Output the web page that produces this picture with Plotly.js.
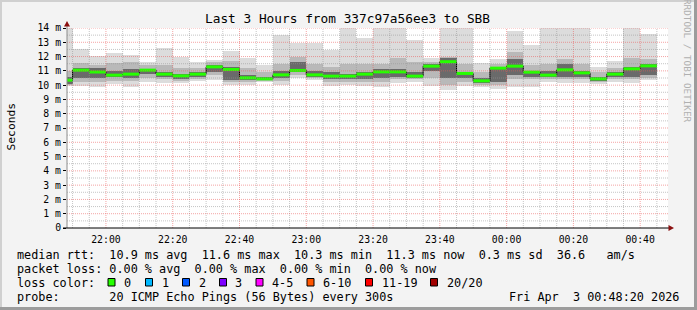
<!DOCTYPE html>
<html>
<head>
<meta charset="utf-8">
<script src="https://cdn.plot.ly/plotly-3.0.1.min.js"></script>
<style>
  html, body { margin: 0; padding: 0; background: #f3f3f3; }
  #chart { width: 697px; height: 310px; }
</style>
</head>
<body>
<div id="chart"></div>
<script>
// ---------- DATA ----------
// end time of each 5-minute step
const barEnd = ["21:50","21:55","22:00","22:05","22:10","22:15","22:20","22:25","22:30","22:35",
                "22:40","22:45","22:50","22:55","23:00","23:05","23:10","23:15","23:20","23:25",
                "23:30","23:35","23:40","23:45","23:50","23:55","00:00","00:05","00:10","00:15",
                "00:20","00:25","00:30","00:35","00:40","00:45"];
// RTT in ms
const minV   = [9.95,9.93,9.89,10.05,9.88,10.23,10.12,10.12,10.30,10.35,10.00,10.00,10.23,10.00,10.50,10.35,9.93,10.00,
                9.93,9.84,10.16,10.23,9.93,9.65,9.93,9.84,9.74,9.84,9.84,10.23,10.16,10.16,10.07,10.23,10.16,10.35];
const loMid  = [10.00,10.24,10.20,10.30,10.30,10.50,10.40,10.30,10.45,10.70,10.20,10.20,10.30,10.30,10.70,10.50,10.20,10.20,
                10.20,10.20,10.40,10.40,10.50,10.00,10.20,10.00,10.00,10.40,10.40,10.40,10.40,10.40,10.20,10.40,10.40,10.50];
const loDark = [10.10,10.47,10.50,10.55,10.50,10.80,10.60,10.45,10.60,10.90,10.35,10.35,10.40,10.50,10.90,10.60,10.40,10.40,
                10.40,10.50,10.60,10.50,11.00,10.50,10.50,10.15,10.20,10.70,10.60,10.60,10.60,10.60,10.30,10.55,10.60,10.70];
const median = [10.35,11.05,10.92,10.70,10.77,11.05,10.77,10.65,10.77,11.28,11.10,10.51,10.44,10.72,11.03,10.72,10.63,10.63,
                10.77,10.93,10.93,10.63,11.33,11.64,10.82,10.30,11.19,11.33,10.91,10.70,11.07,10.86,10.44,10.77,11.14,11.35];
const hiDark = [10.60,11.22,11.17,11.00,11.10,11.15,10.95,10.80,10.90,11.40,11.30,10.70,10.60,11.00,11.60,11.00,10.90,10.80,
                10.95,11.10,11.10,10.90,11.45,11.90,10.95,10.50,11.30,11.80,11.00,11.00,11.50,11.00,10.60,10.90,11.30,11.50];
const hiMid  = [11.00,11.52,11.40,11.52,11.60,11.40,11.40,11.20,11.20,11.60,11.70,11.20,10.90,11.50,12.00,11.50,11.30,11.50,
                11.50,11.50,11.87,11.60,11.60,12.00,11.50,10.90,11.50,12.30,11.40,11.50,11.80,11.50,10.90,11.20,11.90,11.80];
const maxV   = [14.20,12.53,12.01,12.27,12.11,11.59,12.57,11.99,11.61,11.75,12.41,11.92,11.40,13.53,12.97,12.97,12.46,14.20,
                13.32,14.20,14.20,13.16,11.87,14.20,14.20,11.52,11.80,13.79,12.80,14.20,14.20,14.20,11.24,11.68,14.20,13.58];

const yTickVals  = [0,1,2,3,4,5,6,7,8,9,10,11,12,13,14];
const yTickText  = ["0","1 m","2 m","3 m","4 m","5 m","6 m","7 m","8 m","9 m","10 m","11 m","12 m","13 m","14 m"];
const lossLabels = ["0","1","2","3","4-5","6-10","11-19","20/20"];
const lossColors = ["#26ff00","#00b8ff","#0059ff","#7e00ff","#ff00ff","#ff5500","#ff0000","#a10000"];

const titleText = "Last 3 Hours from 337c97a56ee3 to SBB";
const line1 = "median rtt:  10.9 ms avg  11.6 ms max  10.3 ms min  11.3 ms now  0.3 ms sd  36.6   am/s";
const line2 = "packet loss: 0.00 % avg  0.00 % max  0.00 % min  0.00 % now";
const line4 = "probe:       20 ICMP Echo Pings (56 Bytes) every 300s";
const stamp = "Fri Apr  3 00:48:20 2026";
const rangeStart = "2026-04-02 21:48:20";
const rangeEnd   = "2026-04-03 00:48:20";

// ---------- helpers ----------
const STEP = 300000; // 5 minutes in ms
function toDate(hm) {
  const h = parseInt(hm.slice(0,2), 10);
  return (h < 12 ? "2026-04-03 " : "2026-04-02 ") + hm + ":00";
}
function toMs(s) { return Date.parse(s.replace(" ", "T") + "Z"); }
function fmt(ms) { return new Date(ms).toISOString().slice(0,19).replace("T"," "); }
const ends = barEnd.map(toDate);
const starts = ends.map(e => fmt(toMs(e) - STEP));

// pixel -> paper helpers (plot area: x 67..668, y 28..228)
const L = 67, R = 668, T = 28, B = 228;
const px = x => (x - L) / (R - L);
const py = y => (B - y) / (B - T);
const nb = s => s.replace(/ /g, "\u00a0");
const MONO = "DejaVu Sans Mono";

function band(lo, hi, color) {
  return {
    type: "bar", x: ends, base: lo, y: hi.map((v, i) => v - lo[i]),
    width: STEP, offset: -STEP,
    marker: { color: color, line: { width: 0 } },
    hoverinfo: "skip", showlegend: false
  };
}

const traces = [
  band(minV, maxV, "#dcdcdc"),
  band(loMid, hiMid, "#b9b9b9"),
  band(loDark, hiDark, "#6a6a6a")
];

// black step connector of the median
const stepX = [], stepY = [];
median.forEach((m, i) => { stepX.push(starts[i], ends[i]); stepY.push(m, m); });
traces.push({ type: "scatter", mode: "lines", x: stepX, y: stepY,
  line: { color: "#000", width: 1 }, hoverinfo: "skip", showlegend: false });

// green median segments (loss 0)
const segX = [], segY = [];
median.forEach((m, i) => { segX.push(starts[i], ends[i], null); segY.push(m, m, null); });
traces.push({ type: "scatter", mode: "lines", x: segX, y: segY,
  line: { color: lossColors[0], width: 3 }, hoverinfo: "skip", showlegend: false });

// ---------- grid (drawn above the smoke, like rrdtool) ----------
const shapes = [];
const minorC = "rgba(150,150,150,0.55)";
const majorC = "rgba(235,90,90,0.55)";
const t0 = toMs(rangeStart), t1 = toMs(rangeEnd);
for (let t = Math.ceil(t0 / STEP) * STEP; t <= t1; t += STEP) {
  const major = (t % (20 * 60000)) === 0;
  shapes.push({ type: "line", layer: "above", xref: "x", yref: "paper", x0: fmt(t), x1: fmt(t), y0: 0, y1: 1,
    line: { color: major ? majorC : minorC, width: 1, dash: "1px,1px" } });
}
for (let v = 0.5; v <= 14.001; v += 0.5) {
  const major = Math.abs(v - Math.round(v)) < 1e-6;
  shapes.push({ type: "line", layer: "above", xref: "paper", yref: "y", x0: 0, x1: 1, y0: v, y1: v,
    line: { color: major ? majorC : minorC, width: 1, dash: "1px,1px" } });
}
// axis extensions and arrows
shapes.push({ type: "line", layer: "above", xref: "paper", yref: "paper",
  x0: px(67), x1: px(67), y0: py(228), y1: py(25), line: { color: "#8c8c8c", width: 1 } });
shapes.push({ type: "line", layer: "above", xref: "paper", yref: "paper",
  x0: px(63), x1: px(670), y0: py(228), y1: py(228), line: { color: "#000", width: 1.2 } });
shapes.push({ type: "path", layer: "above", xref: "paper", yref: "paper",
  path: `M ${px(67)} ${py(21)} L ${px(64)} ${py(26.5)} L ${px(70)} ${py(26.5)} Z`,
  fillcolor: "#8b1010", line: { width: 0 } });
shapes.push({ type: "path", layer: "above", xref: "paper", yref: "paper",
  path: `M ${px(674)} ${py(228)} L ${px(668.5)} ${py(225)} L ${px(668.5)} ${py(231)} Z`,
  fillcolor: "#8b1010", line: { width: 0 } });
// 3D frame
shapes.push({ type: "rect", xref: "paper", yref: "paper", x0: px(0), x1: px(697), y0: py(0), y1: py(2),
  fillcolor: "#d0d0d0", line: { width: 0 } });
shapes.push({ type: "rect", xref: "paper", yref: "paper", x0: px(0), x1: px(2), y0: py(0), y1: py(310),
  fillcolor: "#d0d0d0", line: { width: 0 } });
shapes.push({ type: "rect", xref: "paper", yref: "paper", x0: px(694), x1: px(697), y0: py(0), y1: py(310),
  fillcolor: "#9c9c9c", line: { width: 0 } });
shapes.push({ type: "rect", xref: "paper", yref: "paper", x0: px(0), x1: px(697), y0: py(307), y1: py(310),
  fillcolor: "#9c9c9c", line: { width: 0 } });

// ---------- legend texts ----------
const annotations = [];
function txt(s, x, y, opts) {
  annotations.push(Object.assign({
    text: nb(s), xref: "paper", yref: "paper", x: px(x), y: py(y),
    xanchor: "left", yanchor: "middle", showarrow: false,
    font: { family: MONO, size: 11.8, color: "#000" }
  }, opts || {}));
}
txt(line1, 14.5, 254.5);
txt(line2, 14.5, 268.5);
txt("loss color:", 14.5, 282.5);
txt(line4, 14.5, 296.5);
txt(stamp, 681, 296.5, { xanchor: "right" });

const boxX  = [108, 145.5, 182.5, 219.5, 256, 307, 365.5, 430.5];
const labX  = [122, 159.5, 196.5, 233.5, 270, 321, 379.5, 444.5];
lossLabels.forEach((lab, i) => {
  shapes.push({ type: "rect", xref: "paper", yref: "paper",
    x0: px(boxX[i]), x1: px(boxX[i] + 7), y0: py(278.5), y1: py(286),
    fillcolor: lossColors[i], line: { color: "#000", width: 1 } });
  txt(lab, labX[i], 282.5);
});

// side credit and y title
annotations.push({ text: nb("RRDTOOL / TOBI OETIKER"), xref: "paper", yref: "paper",
  x: px(688), y: py(61), xanchor: "center", yanchor: "middle", textangle: 90, showarrow: false,
  font: { family: MONO, size: 9.3, color: "#b0b0b0" } });
annotations.push({ text: "Seconds", xref: "paper", yref: "paper",
  x: px(10.5), y: py(127), xanchor: "center", yanchor: "middle", textangle: -90, showarrow: false,
  font: { family: MONO, size: 11.3, color: "#000" } });

const layout = {
  width: 697, height: 310,
  margin: { l: L, r: 697 - R, t: T, b: 310 - B, pad: 0 },
  paper_bgcolor: "#f3f3f3", plot_bgcolor: "#ffffff",
  barmode: "overlay", bargap: 0, showlegend: false,
  title: { text: titleText, x: 347.5 / 697, xref: "container", xanchor: "center",
           y: 1 - 19 / 310, yref: "container", yanchor: "middle",
           font: { family: MONO, size: 12.8, color: "#000" } },
  xaxis: {
    type: "date", range: [rangeStart, rangeEnd],
    tick0: "2026-04-02 22:00:00", dtick: 20 * 60000, tickformat: "%H:%M",
    showgrid: false, zeroline: false, showline: false,
    ticks: "outside", ticklen: 2, tickcolor: "rgba(0,0,0,0)",
    tickfont: { family: MONO, size: 9.8, color: "#000" },
    fixedrange: true
  },
  yaxis: {
    range: [0, 14], tickmode: "array", tickvals: yTickVals, ticktext: yTickText,
    showgrid: false, zeroline: false, showline: false,
    ticks: "outside", ticklen: 3, tickcolor: "#000",
    tickfont: { family: MONO, size: 9.8, color: "#000" },
    fixedrange: true
  },
  shapes: shapes, annotations: annotations
};

Plotly.newPlot("chart", traces, layout, { staticPlot: true, displayModeBar: false });
</script>
</body>
</html>
